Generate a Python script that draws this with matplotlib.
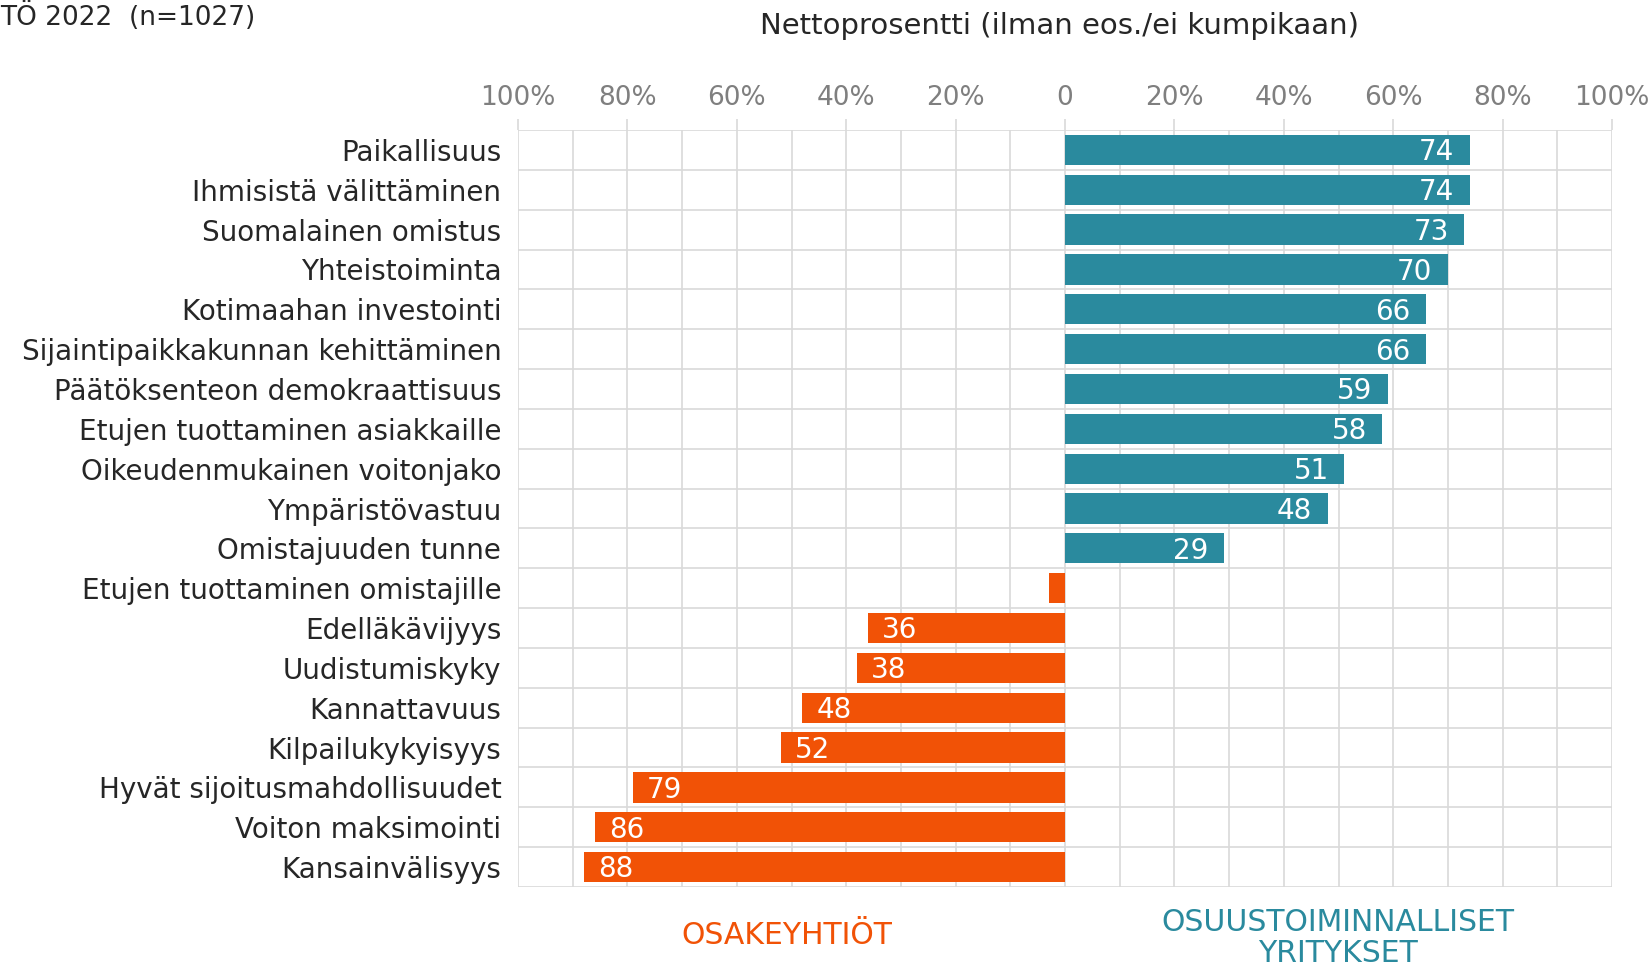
import matplotlib.pyplot as plt
import numpy as np

plt.rcParams['font.family'] = ['DejaVu Sans']

categories = ["Paikallisuus", "Ihmisistä välittäminen", "Suomalainen omistus",
              "Yhteistoiminta", "Kotimaahan investointi",
              "Sijaintipaikkakunnan kehittäminen", "Päätöksenteon demokraattisuus",
              "Etujen tuottaminen asiakkaille", "Oikeudenmukainen voitonjako",
              "Ympäristövastuu", "Omistajuuden tunne", "Etujen tuottaminen omistajille",
              "Edelläkävijyys", "Uudistumiskyky", "Kannattavuus", "Kilpailukykyisyys",
              "Hyvät sijoitusmahdollisuudet", "Voiton maksimointi", "Kansainvälisyys"]
values = [74, 74, 73, 70, 66, 66, 59, 58, 51, 48, 29, -3, -36, -38, -48, -52, -79, -86, -88]
tick_pos = [-100, -80, -60, -40, -20, 0, 20, 40, 60, 80, 100]
tick_labels = ["100%", "80%", "60%", "40%", "20%", "0", "20%", "40%", "60%", "80%", "100%"]

teal = "#2A8A9E"
orange = "#F15206"
grid_c = "#D9D9D9"
text_c = "#262626"

fig = plt.figure(figsize=(16.52, 9.66), dpi=100)
ax = fig.add_axes([518/1652, 1 - 887/966, (1612 - 518)/1652, (887 - 130)/966])

n = len(categories)
y = np.arange(n)
colors = [teal if v > 0 else orange for v in values]
ax.barh(y, values, height=0.76, color=colors, zorder=3)

ax.set_xlim(-100, 100)
ax.set_ylim(n - 0.5, -0.5)

# grid
for gx in range(-100, 101, 10):
    ax.axvline(gx, color=grid_c, lw=1.2, zorder=1)
for gy in np.arange(-0.5, n, 1.0):
    ax.axhline(gy, color=grid_c, lw=1.2, zorder=1)

for s in ax.spines.values():
    s.set_visible(False)

ax.xaxis.tick_top()
ax.set_xticks(tick_pos)
ax.set_xticklabels(tick_labels, fontsize=19, color="#7F7F7F")
ax.tick_params(axis="x", length=8, color=grid_c, width=1.2, pad=6)
ax.set_yticks(y)
ax.set_yticklabels(categories, fontsize=20, color=text_c)
ax.tick_params(axis="y", length=0, pad=12)

for i, v in enumerate(values):
    if abs(v) < 10:
        continue
    if v > 0:
        ax.text(v - 2.8, i + 0.06, str(v), ha="right", va="center",
                color="white", fontsize=20, zorder=4)
    else:
        ax.text(v + 2.6, i + 0.06, str(-v), ha="left", va="center",
                color="white", fontsize=20, zorder=4)

fig.text(1059/1652, 1 - 26/966, "Nettoprosentti (ilman eos./ei kumpikaan)",
         ha="center", va="center", fontsize=21, color=text_c)
fig.text(0, 1 - 2/966, "TÖ 2022  (n=1027)", ha="left", va="top",
         fontsize=19, color=text_c)

fig.text(787/1652, 1 - 936/966, "OSAKEYHTIÖT", ha="center", va="center",
         fontsize=21.5, color=orange)
fig.text(1338/1652, 1 - 938/966, "OSUUSTOIMINNALLISET\nYRITYKSET", ha="center",
         va="center", fontsize=21.5, color=teal, linespacing=1.1)

fig.savefig("out.png", dpi=100)
